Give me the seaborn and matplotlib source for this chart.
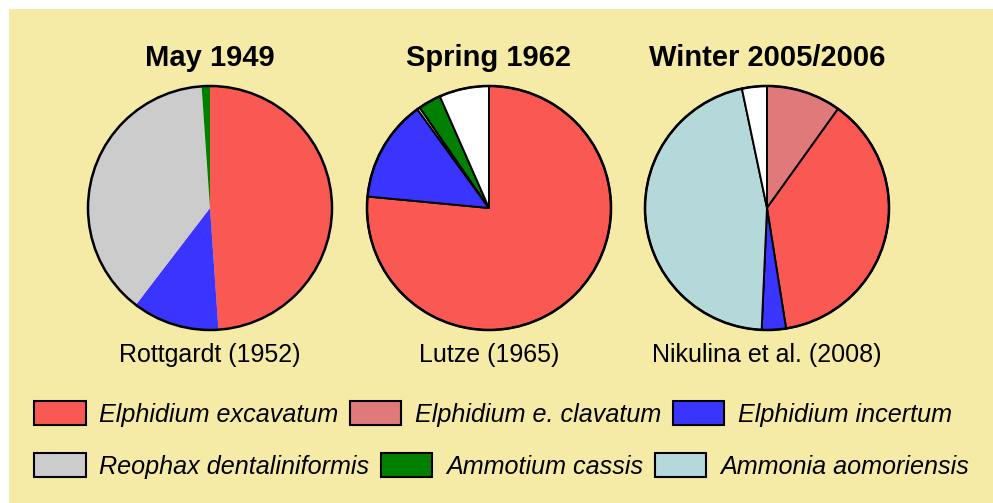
import matplotlib
matplotlib.use('Agg')
import matplotlib.pyplot as plt
import seaborn as sns
from matplotlib.patches import Patch, Rectangle, Circle

# species shares (percent), clockwise from 12 o'clock
may1949_labels = ['Elphidium excavatum', 'Elphidium incertum', 'Reophax dentaliniformis', 'Ammotium cassis']
may1949_values = [48.9, 11.5, 38.5, 1.1]

spring1962_labels = ['Elphidium excavatum', 'Elphidium incertum', 'Reophax dentaliniformis', 'Ammotium cassis', 'Other']
spring1962_values = [76.5, 13.5, 0.4, 3.0, 6.6]

winter2006_labels = ['Elphidium e. clavatum', 'Elphidium excavatum', 'Elphidium incertum', 'Ammonia aomoriensis', 'Other']
winter2006_values = [9.9, 37.6, 3.2, 46.0, 3.3]

titles = ['May 1949', 'Spring 1962', 'Winter 2005/2006']
sources = ['Rottgardt (1952)', 'Lutze (1965)', 'Nikulina et al. (2008)']

legend_row1 = ['Elphidium excavatum', 'Elphidium e. clavatum', 'Elphidium incertum']
legend_row2 = ['Reophax dentaliniformis', 'Ammotium cassis', 'Ammonia aomoriensis']

colors = {
    'Elphidium excavatum': '#FA5852',
    'Elphidium e. clavatum': '#E07A7A',
    'Elphidium incertum': '#3A34FF',
    'Reophax dentaliniformis': '#CCCCCC',
    'Ammotium cassis': '#008000',
    'Ammonia aomoriensis': '#B5D8DA',
    'Other': '#FFFFFF',
}

sns.set_style('white')
plt.rcParams['font.family'] = ['Liberation Sans', 'DejaVu Sans']
plt.rcParams['text.color'] = 'black'

W, H = 993, 503
fig = plt.figure(figsize=(W / 100, H / 100), dpi=100)
fig.patch.set_facecolor('white')
bg = '#F5EBA7'
fig.patches.append(Rectangle((9 / W, 0), 1, 1 - 9 / H, transform=fig.transFigure,
                             facecolor=bg, edgecolor='none', zorder=-10))

pies = [
    (may1949_labels, may1949_values, 210, False),
    (spring1962_labels, spring1962_values, 489, True),
    (winter2006_labels, winter2006_values, 767, True),
]
cy, r = 208, 122
for i, (labels, values, cx, edges) in enumerate(pies):
    ax = fig.add_axes([(cx - r) / W, 1 - (cy + r) / H, 2 * r / W, 2 * r / H])
    ax.set_facecolor('none')
    wp = dict(edgecolor='black', linewidth=1.4) if edges else dict(edgecolor='none', linewidth=0)
    ax.pie(values, colors=[colors[l] for l in labels], startangle=90,
           counterclock=False, radius=1, wedgeprops=wp)
    ax.add_patch(Circle((0, 0), 1, fill=False, edgecolor='black', linewidth=1.8, clip_on=False))
    ax.set_xlim(-1, 1)
    ax.set_ylim(-1, 1)
    ax.axis('off')
    fig.text(cx / W, 1 - 66 / H, titles[i], ha='center', va='baseline',
             fontsize=21, fontweight='bold', color='black')
    fig.text(cx / W, 1 - 362 / H, sources[i], ha='center', va='baseline',
             fontsize=18, color='black')

for row, yc in [(legend_row1, 414), (legend_row2, 466)]:
    handles = [Patch(facecolor=colors[l], edgecolor='black', linewidth=1.5, label=l) for l in row]
    fig.legend(handles=handles, loc='center left', bbox_to_anchor=(34 / W, 1 - yc / H),
               ncol=3, frameon=False, borderpad=0, borderaxespad=0,
               handlelength=2.05, handleheight=1.08, handletextpad=0.55,
               columnspacing=0.45, prop={'style': 'italic', 'size': 18.1},
               labelcolor='black')

fig.savefig('out.png', dpi=100, facecolor=fig.get_facecolor())
